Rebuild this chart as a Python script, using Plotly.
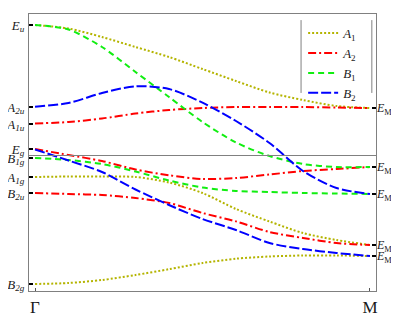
import plotly.graph_objects as go

# wave vector from Gamma (0) to M (1)
k = [0.0, 0.1, 0.2, 0.3, 0.4, 0.5, 0.6, 0.7, 0.8, 0.9, 1.0]

# energies (arbitrary units)
A1_top = [26.6, 26.25, 25.4, 24.4, 23.4, 22.2, 21.0, 19.85, 19.1, 18.5, 18.3]
A1_mid = [11.4, 11.45, 11.45, 11.4, 10.85, 9.8, 8.2, 6.95, 5.8, 5.1, 4.6]
A1_low = [0.7, 0.8, 1.1, 1.6, 2.18, 2.8, 3.23, 3.45, 3.55, 3.55, 3.5]

A2_top = [16.75, 16.9, 17.25, 17.75, 18.1, 18.3, 18.4, 18.4, 18.4, 18.35, 18.3]
A2_mid = [14.2, 13.6, 13.0, 12.15, 11.57, 11.2, 11.3, 11.65, 12.0, 12.2, 12.4]
A2_low = [9.8, 9.7, 9.6, 9.3, 8.8, 7.8, 6.96, 5.9, 5.3, 4.8, 4.6]

B1_top = [26.6, 26.15, 24.4, 21.9, 19.4, 16.9, 14.85, 13.5, 12.7, 12.4, 12.4]
B1_low = [13.3, 13.1, 12.7, 11.95, 11.05, 10.35, 10.0, 9.9, 9.8, 9.75, 9.7]

B2_top = [18.43, 18.8, 19.8, 20.47, 20.2, 18.83, 17.0, 14.8, 12.0, 10.3, 9.7]
B2_low = [14.15, 13.05, 11.9, 10.15, 8.6, 7.2, 6.1, 4.8, 4.2, 3.8, 3.5]

series_names = ["<i>A</i><sub>1</sub>", "<i>A</i><sub>2</sub>",
                "<i>B</i><sub>1</sub>", "<i>B</i><sub>2</sub>"]
series_curves = [[A1_top, A1_mid, A1_low], [A2_top, A2_mid, A2_low],
                 [B1_top, B1_low], [B2_top, B2_low]]

# axis ticks
x_tickvals = [0.0, 1.0]
x_ticktext = ["Γ", "M"]
left_tickvals = [26.6, 18.4, 16.7, 14.2, 13.3, 11.4, 9.8, 0.7]
left_ticktext = ["<i>E<sub>u</sub></i>", "<i>A<sub>2u</sub></i>", "<i>A<sub>1u</sub></i>",
                 "<i>E<sub>g</sub></i>", "<i>B<sub>1g</sub></i>", "<i>A<sub>1g</sub></i>",
                 "<i>B<sub>2u</sub></i>", "<i>B<sub>2g</sub></i>"]
right_tickvals = [18.3, 12.4, 9.7, 4.6, 3.5]
right_ticktext = ["<i>E</i><sub>M4</sub>", "<i>E</i><sub>M1</sub>", "<i>E</i><sub>M3</sub>",
                  "<i>E</i><sub>M4</sub>", "<i>E</i><sub>M2</sub>"]
separator_level = 13.55

colors = ["#b4b400", "#ff0000", "#11ee11", "#0000ff"]
dashes = ["2px,2px", "8px,3px,2px,3px", "6px,4px", "10px,3px"]

Y_RANGE = [0, 27.7]
X_RANGE = [-0.018, 1.018]
FONT = "Liberation Serif, Times New Roman, serif"

fig = go.Figure()
for name, curves, col, dsh in zip(series_names, series_curves, colors, dashes):
    for i, c in enumerate(curves):
        fig.add_trace(go.Scatter(
            x=k, y=c, mode="lines", name=name, legendgroup=name,
            showlegend=(i == 0),
            line=dict(color=col, width=2, dash=dsh, shape="spline", smoothing=0.8),
        ))

# dummy trace so the right axis is drawn
fig.add_trace(go.Scatter(x=[None], y=[None], yaxis="y2", showlegend=False,
                         hoverinfo="skip"))

frame_col = "#808080"
# the page body has an 8px margin: the figure is sized to the remaining area
fig.update_layout(
    width=391, height=312,
    margin=dict(l=21, r=23, t=6, b=29),
    paper_bgcolor="white", plot_bgcolor="white",
    font=dict(family=FONT, size=13, color="#1a1a1a"),
    xaxis=dict(range=X_RANGE, tickvals=x_tickvals, ticktext=x_ticktext,
               ticks="inside", ticklen=3, tickcolor="#555", tickwidth=1,
               showgrid=False, zeroline=False, showline=True, linecolor=frame_col,
               linewidth=1.2, mirror=True, automargin=False,
               tickfont=dict(size=17, family=FONT)),
    yaxis=dict(range=Y_RANGE, tickvals=left_tickvals, ticktext=left_ticktext,
               ticks="inside", ticklen=4, tickwidth=2, tickcolor="black",
               showgrid=False, zeroline=False, showline=True, linecolor=frame_col,
               linewidth=1.2, mirror=True, ticklabelstandoff=1, automargin=False,
               tickfont=dict(size=13, family=FONT)),
    yaxis2=dict(range=Y_RANGE, overlaying="y", side="right",
                tickvals=right_tickvals, ticktext=right_ticktext,
                ticks="inside", ticklen=4, tickwidth=1.5, tickcolor="black",
                showgrid=False, zeroline=False, showline=False,
                ticklabelstandoff=0, automargin=False,
                tickfont=dict(size=12, family=FONT)),
    legend=dict(x=0.79, xanchor="left", y=0.985, yanchor="top",
                bgcolor="rgba(0,0,0,0)", borderwidth=0,
                font=dict(size=13, family=FONT), tracegroupgap=0),
    showlegend=True,
)

fig.add_shape(type="line", xref="paper", yref="y", x0=0, x1=1,
              y0=separator_level, y1=separator_level,
              line=dict(color=frame_col, width=1.2))
for xp in [0.784, 0.988]:
    fig.add_shape(type="line", xref="paper", yref="paper", x0=xp, x1=xp,
                  y0=0.715, y1=0.978, line=dict(color=frame_col, width=1))

fig.write_html("out.html")
